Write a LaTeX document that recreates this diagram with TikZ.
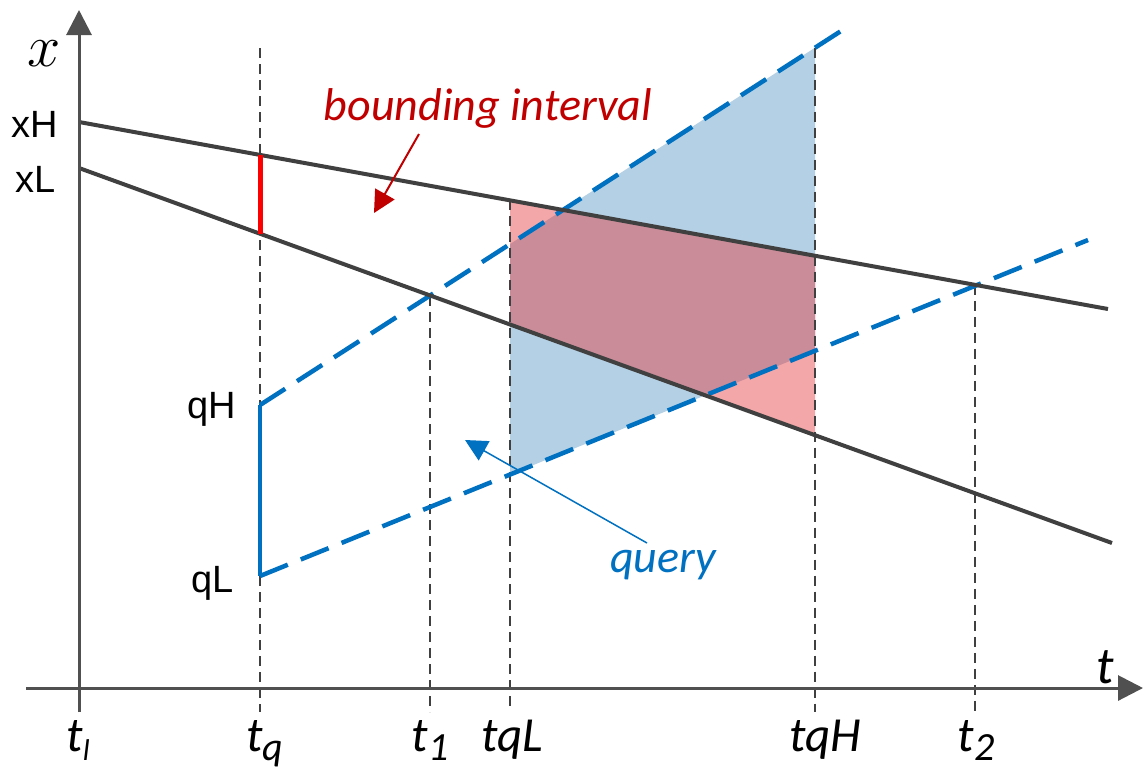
\documentclass[tikz,border=0pt]{standalone}
\usepackage{fontspec}
\setmainfont{Carlito}
\newfontfamily\arialfont{Liberation Sans}
\usetikzlibrary{arrows.meta, positioning}
\definecolor{Asse}{HTML}{505050}
\definecolor{Linea}{HTML}{404040}
\definecolor{Blu}{HTML}{0070C0}
\definecolor{Rosso}{HTML}{C00000}
\definecolor{RossoVivo}{HTML}{FF0000}
\definecolor{BluChiaro}{HTML}{B4D0E4}
\definecolor{RossoChiaro}{HTML}{F4A7A8}
\definecolor{Misto}{HTML}{C98C98}
\tikzset{
    axis/.style={draw=Asse, line width=1.5pt, -{Triangle[length=12.5pt,width=12.5pt]}},
    bound/.style={draw=Linea, line width=2pt},
    guide/.style={draw=Linea, line width=0.8pt, dash pattern=on 5pt off 3pt},
    qline/.style={draw=Blu, line width=2.25pt, dash pattern=on 15pt off 7pt},
    lbl/.style={font=\arialfont\fontsize{19}{20}\selectfont, inner sep=0pt, anchor=base east},
    tlbl/.style={font=\fontsize{24.5}{25}\selectfont\itshape, inner sep=0pt, anchor=base},
    note/.style={font=\fontsize{23}{24}\selectfont\itshape, inner sep=0pt, anchor=base},
    pointer/.style={-{Triangle[length=11pt,width=11pt]}},
}
\newcommand{\tsub}[2][20]{t\raisebox{-4.5pt}{\fontsize{#1}{#1}\selectfont #2}}

\begin{document}
\begin{tikzpicture}[x=0.5pt, y=-0.5pt]
    \useasboundingbox (0,0) rectangle (1145,773);
    % Assi
    \coordinate (O) at (79,688);
    \coordinate (yBot) at (79,712);
    \coordinate (yTop) at (79,10);
    \coordinate (xBeg) at (26,688);
    \coordinate (xEnd) at (1143,688);
    % Rette dell'intervallo
    \coordinate (xH0) at (79,122);   \coordinate (xH1) at (1108,309);
    \coordinate (xL0) at (79,168);   \coordinate (xL1) at (1112,543);
    \coordinate (xHq) at (260,154.9); \coordinate (xLq) at (260,233.7);
    \coordinate (hA) at (510,200.3); \coordinate (hB) at (815,255.8);
    \coordinate (lA) at (510,324.5); \coordinate (lB) at (815,435.2);
    % Rette della query
    \coordinate (qH0) at (260,405);  \coordinate (qH1) at (841,31);
    \coordinate (qL0) at (260,576);  \coordinate (qL1) at (1088,240);
    \coordinate (qHa) at (510,244.1); \coordinate (qHb) at (815,47.7);
    \coordinate (qLa) at (510,474.5); \coordinate (qLb) at (815,350.8);
    % Linee verticali
    \coordinate (tqTop) at (260,48);  \coordinate (tqBot) at (260,712);
    \coordinate (t1Top) at (430,296); \coordinate (t1Bot) at (430,712);
    \coordinate (tqLBot) at (510,712);
    \coordinate (tqHBot) at (815,712);
    \coordinate (t2Top) at (975,284.8); \coordinate (t2Bot) at (975,712);

    % Regioni
    \fill[BluChiaro] (qHa) -- (qHb) -- (qLb) -- (qLa) -- cycle;
    \fill[RossoChiaro] (hA) -- (hB) -- (lB) -- (lA) -- cycle;
    \begin{scope}
        \clip (qHa) -- (qHb) -- (qLb) -- (qLa) -- cycle;
        \fill[Misto] (hA) -- (hB) -- (lB) -- (lA) -- cycle;
    \end{scope}

    % Tratteggi verticali
    \draw[guide] (tqTop) -- (tqBot);
    \draw[guide] (t1Top) -- (t1Bot);
    \draw[guide] (hA) -- (tqLBot);
    \draw[guide] (qHb) -- (tqHBot);
    \draw[guide] (t2Top) -- (t2Bot);

    % Query
    \draw[qline] (qH0) -- (qH1);
    \draw[qline] (qL0) -- (qL1);
    \draw[draw=Blu, line width=2.25pt] (qH0) -- (qL0);

    % Intervallo
    \draw[bound] (xH0) -- (xH1);
    \draw[bound] (xL0) -- (xL1);
    \draw[draw=RossoVivo, line width=2.5pt] (xHq) -- (xLq);

    % Assi
    \draw[axis] (yBot) -- (yTop);
    \draw[axis] (xBeg) -- (xEnd);
    \node[font=\fontsize{32}{32}\selectfont, inner sep=0pt, anchor=base] (xLab) at (44,66) {\scalebox{1.2}{$x$}};
    \node[font=\itshape\fontsize{26}{26}\selectfont, inner sep=0pt, anchor=base] (tLab) at (1105,683) {t};

    % Etichette
    \node[lbl] (xHLab) at (58,137) {xH};
    \node[lbl] (xLLab) at (56,192) {xL};
    \node[lbl] (qHLab) at (236,418) {qH};
    \node[lbl] (qLLab) at (234,592) {qL};
    \node[tlbl] (tlLab) at (78,751) {\tsub[15]{l}};
    \node[tlbl] (tqLab) at (265,751) {\tsub{q}};
    \node[tlbl] (t1Lab) at (430,751) {\tsub{1}};
    \node[tlbl] (tqLLab) at (512,751) {tqL};
    \node[tlbl] (tqHLab) at (825,751) {tqH};
    \node[tlbl] (t2Lab) at (976,751) {\tsub{2}};

    % Annotazioni
    \node[note, text=Rosso] (biLab) at (488,120) {bounding interval};
    \node[note, text=Blu] (qLab) at (663,572) {query};
    \coordinate (biFrom) at (419,134);  \coordinate (biTo) at (374,213);
    \coordinate (qFrom) at (647,543);   \coordinate (qTo) at (465,440);
    \draw[pointer, draw=Rosso, fill=Rosso, line width=1pt] (biFrom) -- (biTo);
    \draw[pointer, draw=Blu, fill=Blu, line width=0.75pt] (qFrom) -- (qTo);
\end{tikzpicture}
\end{document}
